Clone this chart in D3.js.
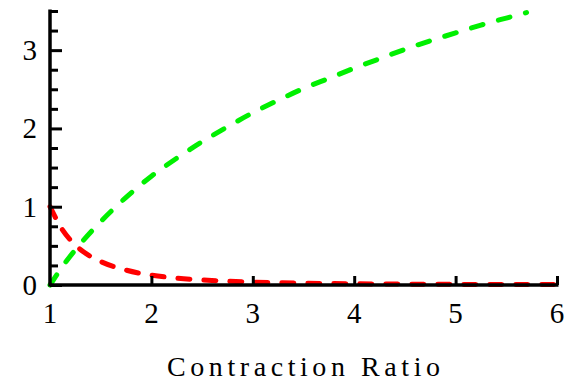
<!DOCTYPE html>
<html>
<head>
<meta charset="utf-8">
<script src="https://cdn.jsdelivr.net/npm/d3@7"></script>
<style>
  html, body { margin: 0; padding: 0; background: #fff; }
  svg { display: block; }
  svg text { font-family: "Liberation Serif", Tinos, "DejaVu Serif", "Noto Serif", serif; fill: #000; }
</style>
</head>
<body>
<svg id="chart" width="575" height="383"></svg>
<script>
// Contraction ratio on x; two response curves.
const ratioGreen = [1, 1.125, 1.25, 1.5, 1.75, 2, 2.25, 2.5, 2.75, 3, 3.25, 3.5, 3.75, 4, 4.25, 4.5, 4.75, 5, 5.25, 5.5, 5.7];
const valueGreen = [0, 0.24, 0.45, 0.81, 1.12, 1.39, 1.62, 1.83, 2.02, 2.2, 2.36, 2.51, 2.64, 2.77, 2.89, 3.01, 3.12, 3.22, 3.32, 3.41, 3.48];

const ratioRed = [1, 1.125, 1.25, 1.375, 1.5, 1.75, 2, 2.25, 2.5, 2.75, 3, 3.5, 4, 4.5, 5, 5.5, 6];
const valueRed = [1, 0.70, 0.51, 0.385, 0.30, 0.19, 0.125, 0.088, 0.064, 0.048, 0.037, 0.023, 0.016, 0.011, 0.008, 0.006, 0.005];

const xTicks = [1, 2, 3, 4, 5, 6];
const yMajorTicks = [0, 1, 2, 3];
const yMinorTicks = [0.25, 0.5, 0.75, 1.25, 1.5, 1.75, 2.25, 2.5, 2.75, 3.25, 3.5];
const xTitle = "Contraction Ratio";

const svg = d3.select("#chart");
const x = d3.scaleLinear().domain([1, 6]).range([50, 557]);
const y = d3.scaleLinear().domain([0, 3.5]).range([285, 11]);

// Curves (dashed)
const line = d3.line()
  .x(d => x(d[0]))
  .y(d => y(d[1]))
  .curve(d3.curveMonotoneX);

const redPts = ratioRed.map((r, i) => [r, valueRed[i]]);
const greenPts = ratioGreen.map((r, i) => [r, valueGreen[i]]);

svg.append("path")
  .attr("d", line(redPts))
  .attr("fill", "none")
  .attr("stroke", "#ff0000")
  .attr("stroke-width", 5)
  .attr("stroke-linecap", "round")
  .attr("stroke-dasharray", "12,14");

svg.append("path")
  .attr("d", line(greenPts))
  .attr("fill", "none")
  .attr("stroke", "#00f000")
  .attr("stroke-width", 5)
  .attr("stroke-linecap", "round")
  .attr("stroke-dasharray", "12,16");

// X axis: ticks point up into the plot
const xAxis = d3.axisTop(x)
  .tickValues(xTicks.slice(1))
  .tickSize(9)
  .tickSizeOuter(0)
  .tickFormat("");
const gx = svg.append("g").attr("transform", `translate(0,${y(0)})`).call(xAxis);
gx.select(".domain").remove();
gx.selectAll(".tick line").attr("stroke", "#000").attr("stroke-width", 3);
svg.append("line")
  .attr("x1", x(1)).attr("x2", x(6) + 1.5)
  .attr("y1", y(0)).attr("y2", y(0))
  .attr("stroke", "#000").attr("stroke-width", 3.5);

// X tick labels
svg.append("g").selectAll("text")
  .data(xTicks)
  .join("text")
  .attr("x", d => x(d))
  .attr("y", 323)
  .attr("text-anchor", "middle")
  .style("font-size", "29px")
  .text(d => d);

// Y axis: major and minor ticks point right
const yAxisMinor = d3.axisRight(y).tickValues(yMinorTicks).tickSize(8).tickSizeOuter(0).tickFormat("");
const gyMinor = svg.append("g").attr("transform", `translate(${x(1)},0)`).call(yAxisMinor);
gyMinor.select(".domain").remove();
gyMinor.selectAll(".tick line").attr("stroke", "#000").attr("stroke-width", 3);

const yAxisMajor = d3.axisRight(y).tickValues(yMajorTicks).tickSize(12).tickSizeOuter(0).tickFormat("");
const gyMajor = svg.append("g").attr("transform", `translate(${x(1)},0)`).call(yAxisMajor);
gyMajor.select(".domain").remove();
gyMajor.selectAll(".tick line").attr("stroke", "#000").attr("stroke-width", 3);

svg.append("line")
  .attr("x1", x(1)).attr("x2", x(1))
  .attr("y1", y(3.5) - 1.5).attr("y2", y(0) + 1.5)
  .attr("stroke", "#000").attr("stroke-width", 3.5);

// Y tick labels
svg.append("g").selectAll("text")
  .data(yMajorTicks)
  .join("text")
  .attr("x", 37)
  .attr("y", d => y(d) + 10)
  .attr("text-anchor", "end")
  .style("font-size", "29px")
  .text(d => d);

// X axis title
svg.append("text")
  .attr("x", 167)
  .attr("y", 376)
  .style("font-size", "28px")
  .attr("textLength", 273)
  .attr("lengthAdjust", "spacing")
  .text(xTitle);
</script>
</body>
</html>
